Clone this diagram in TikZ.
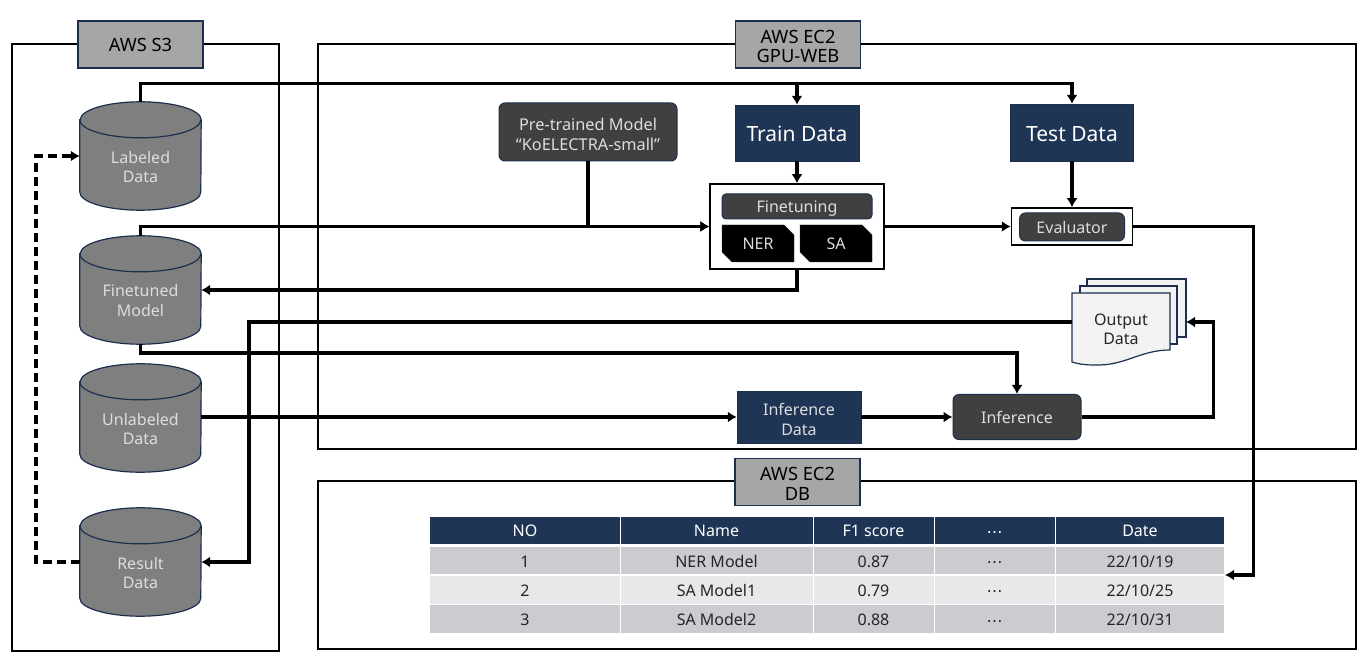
\documentclass[tikz,border=0pt]{standalone}
\usepackage{fontspec}
\setmainfont{Noto Sans}
\newfontfamily\dotsfont{DejaVu Sans}
\usetikzlibrary{arrows.meta,shapes.misc}

\definecolor{navy}{HTML}{1F3556}
\definecolor{edgeblue}{HTML}{1C2F4E}
\definecolor{darkbox}{HTML}{404040}
\definecolor{drum}{HTML}{7F7F7F}
\definecolor{tag}{HTML}{A6A6A6}
\definecolor{lighttext}{HTML}{DDDDDD}
\definecolor{rowdark}{HTML}{CBCCD0}
\definecolor{rowlight}{HTML}{E7E8EA}
\definecolor{page}{HTML}{F2F2F2}

\tikzset{
    nudge/.style={execute at begin node={\rule{0pt}{#1}}},
    frame/.style={draw=black, line width=1.2pt},
    tagbox/.style={draw=edgeblue, line width=1.2pt, fill=tag, inner sep=0pt, minimum width=125pt, minimum height=47pt, align=center, font=\fontsize{18.3}{19.5}\selectfont, text=black},
    drumbox/.style={inner sep=0pt, minimum width=121pt, minimum height=108pt},
    drumline/.style={draw=edgeblue, line width=1.2pt},
    drumtext/.style={inner sep=0pt, align=center, text=lighttext, font=\fontsize{16}{19.5}\selectfont},
    navybox/.style={draw=edgeblue, fill=navy, text=white, inner sep=0pt, align=center},
    darkbox/.style={draw=edgeblue, line width=1pt, fill=darkbox, rounded corners=6pt, text=lighttext, inner sep=0pt, align=center},
    blackbox/.style={chamfered rectangle, chamfered rectangle corners={north east,south west}, chamfered rectangle xsep=5pt, chamfered rectangle ysep=5pt, draw=edgeblue, fill=black, text=lighttext, inner sep=0pt, minimum width=72pt, minimum height=37pt, nudge=13pt, font=\fontsize{16}{18}\selectfont},
    whitebox/.style={draw=black, line width=1.5pt, fill=white, inner sep=0pt},
    pagebox/.style={draw=edgeblue, line width=1.2pt, fill=page},
    flow/.style={draw=black, line width=3.4pt, -{Latex[length=9pt,width=11pt]}},
    backflow/.style={flow, dash pattern=on 9pt off 5pt},
    headcell/.style={fill=navy, text=white, inner sep=0pt, minimum height=27pt, nudge=14pt, font=\fontsize{16}{18}\selectfont},
    darkcell/.style={fill=rowdark, text=black!85, inner sep=0pt, minimum height=27pt, nudge=14pt, font=\fontsize{16}{18}\selectfont},
    lightcell/.style={fill=rowlight, text=black!85, inner sep=0pt, minimum height=28pt, nudge=14pt, font=\fontsize{16}{18}\selectfont},
}

% body and top rim of a storage drum, inside the named box
\newcommand{\drumbody}[1]{
    \draw [drumline, fill=drum] ([yshift=-18pt]#1.north west) -- ([yshift=18pt]#1.south west) arc [start angle=180, end angle=360, x radius=60.5pt, y radius=18pt] -- ([yshift=-18pt]#1.north east) arc [start angle=0, end angle=180, x radius=60.5pt, y radius=18pt] -- cycle;
    \draw [drumline] ([yshift=-18pt]#1.north west) arc [start angle=180, end angle=360, x radius=60.5pt, y radius=18pt];
}

\begin{document}
\begin{tikzpicture}[x=1pt, y=-1pt]

    \useasboundingbox (0,0) rectangle (1369,660);

    % outer frames
    \draw [frame] (12,44) rectangle (279,651);
    \draw [frame] (318,44) rectangle (1356,449);
    \draw [frame] (318,481) rectangle (1356,649);

    \node [tagbox] (tagsthree) at (140.5,44.5) {AWS S3};
    \node [tagbox] (taggpu) at (798,44.5) {\rule{0pt}{17pt}AWS EC2\\GPU-WEB};
    \node [tagbox] (tagdb) at (797.5,482) {\rule{0pt}{17pt}AWS EC2\\DB};

    % storage
    \node [drumbox] (labeled) at (140.5,156) {};
    \node [drumbox] (finetuned) at (140.5,290) {};
    \node [drumbox] (unlabeled) at (140.5,418) {};
    \node [drumbox] (result) at (140.5,562) {};
    \drumbody{labeled}
    \drumbody{finetuned}
    \drumbody{unlabeled}
    \drumbody{result}

    \node [drumtext] (labeledtext) at (140.5,167) {Labeled\\Data};
    \node [drumtext] (finetunedtext) at (140.5,300.5) {Finetuned\\Model};
    \node [drumtext] (unlabeledtext) at (140.5,429) {Unlabeled\\Data};
    \node [drumtext] (resulttext) at (140.5,573) {Result\\Data};

    % training
    \node [darkbox, minimum width=178pt, minimum height=58pt, font=\fontsize{16.3}{19.5}\selectfont] (pretrained) at (588,132) {\rule{0pt}{17pt}Pre-trained Model\\“KoELECTRA-small”};
    \node [navybox, minimum width=124pt, minimum height=56pt, nudge=18pt, font=\fontsize{21}{24}\selectfont] (train) at (797,133) {Train Data};
    \node [navybox, minimum width=123pt, minimum height=57pt, nudge=18pt, font=\fontsize{21}{24}\selectfont] (test) at (1072,132.5) {Test Data};

    \node [whitebox, minimum width=174pt, minimum height=85pt] (tune) at (797,226.5) {};
    \node [darkbox, minimum width=150pt, minimum height=25pt, rounded corners=4pt, text depth=0pt, nudge=13pt, font=\fontsize{16}{18}\selectfont] (finetuning) at (797,206.5) {Finetuning};
    \node [blackbox] (ner) at (758,243.5) {NER};
    \node [blackbox] (sa) at (836,243.5) {SA};

    \node [whitebox, minimum width=121pt, minimum height=37pt] (evalbox) at (1072,226.5) {};
    \node [darkbox, minimum width=105pt, minimum height=28pt, nudge=13pt, font=\fontsize{16}{18}\selectfont] (evaluator) at (1072,227) {Evaluator};

    % inference
    \node [navybox, minimum width=124pt, minimum height=52pt, text=lighttext, font=\fontsize{16}{19.5}\selectfont] (infdata) at (799,417) {\rule{0pt}{17pt}Inference\\Data};
    \node [darkbox, minimum width=128pt, minimum height=45pt, nudge=14pt, font=\fontsize{16}{19}\selectfont] (inference) at (1017,417) {Inference};

    % output pages
    \draw [pagebox] (1087,279) -- (1186,279) -- (1186,337) -- (1087,337) -- cycle;
    \draw [pagebox] (1080,286) -- (1177,286) -- (1177,344) -- (1080,344) -- cycle;
    \draw [pagebox] (1072,293) -- (1170,293) -- (1170,350) .. controls (1140,350) and (1125,366) .. (1095,365) .. controls (1085,365) and (1078,364) .. (1072,362) -- cycle;
    \node [inner sep=0pt, align=center, text=black!85, font=\fontsize{16}{19.5}\selectfont] (output) at (1121,329.5) {Output\\Data};
    \coordinate (outwest) at (1072,322);
    \coordinate (outeast) at (1186,322);
    \coordinate (outbend) at (249,322);

    % result table
    \node [headcell, minimum width=190pt] (hno) at (525,530) {NO};
    \node [headcell, minimum width=192pt] (hname) at (716.5,530) {Name};
    \node [headcell, minimum width=120pt] (hscore) at (873.5,530) {F1 score};
    \node [headcell, minimum width=120pt] (hdots) at (994.5,530) {\dotsfont ⋯};
    \node [headcell, minimum width=168pt] (hdate) at (1140,530) {Date};

    \node [darkcell, minimum width=190pt] (ano) at (525,560.5) {1};
    \node [darkcell, minimum width=192pt] (aname) at (716.5,560.5) {NER Model};
    \node [darkcell, minimum width=120pt] (ascore) at (873.5,560.5) {0.87};
    \node [darkcell, minimum width=120pt] (adots) at (994.5,560.5) {\dotsfont ⋯};
    \node [darkcell, minimum width=168pt] (adate) at (1140,560.5) {22/10/19};

    \node [lightcell, minimum width=190pt] (bno) at (525,589.5) {2};
    \node [lightcell, minimum width=192pt] (bname) at (716.5,589.5) {SA Model1};
    \node [lightcell, minimum width=120pt] (bscore) at (873.5,589.5) {0.79};
    \node [lightcell, minimum width=120pt] (bdots) at (994.5,589.5) {\dotsfont ⋯};
    \node [lightcell, minimum width=168pt] (bdate) at (1140,589.5) {22/10/25};

    \node [darkcell, minimum width=190pt, minimum height=28pt] (cno) at (525,619) {3};
    \node [darkcell, minimum width=192pt, minimum height=28pt] (cname) at (716.5,619) {SA Model2};
    \node [darkcell, minimum width=120pt, minimum height=28pt] (cscore) at (873.5,619) {0.88};
    \node [darkcell, minimum width=120pt, minimum height=28pt] (cdots) at (994.5,619) {\dotsfont ⋯};
    \node [darkcell, minimum width=168pt, minimum height=28pt] (cdate) at (1140,619) {22/10/31};
    \coordinate (tablein) at (1225,575);

    % connectors
    \draw [flow] (labeled.north) -- ++(0,-18) -| (train.north);
    \draw [flow] (labeled.north) -- ++(0,-18) -| (test.north);
    \draw [flow] (finetuned.north) |- (tune.west);
    \draw [flow] (pretrained.south) |- (tune.west);
    \draw [flow] (train.south) -- (tune.north);
    \draw [flow] (test.south) -- (evalbox.north);
    \draw [flow] (tune.east) -- (evalbox.west);
    \draw [flow] (tune.south) |- (finetuned.east);
    \draw [flow] (evalbox.east) -| ++(120,20) |- (tablein);
    \draw [flow] (outwest) -- (outbend) |- (result.east);
    \draw [flow] (finetuned.south) -- ++(0,9) -| (inference.north);
    \draw [flow] (unlabeled.east |- infdata.west) -- (infdata.west);
    \draw [flow] (infdata.east) -- (inference.west);
    \draw [flow] (inference.east) -| ++(132,-50) |- (outeast);
    \draw [backflow] (result.west) -- ++(-44,0) |- (labeled.west);

\end{tikzpicture}
\end{document}
